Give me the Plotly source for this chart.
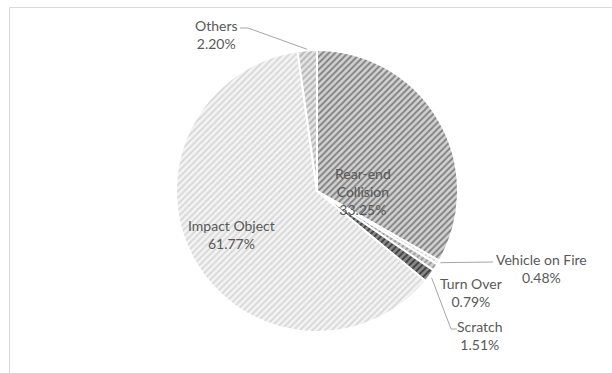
import math
import plotly.graph_objects as go

# ---- data ----
categories = ["Rear-end Collision", "Vehicle on Fire", "Turn Over", "Scratch", "Impact Object", "Others"]
values = [33.25, 0.48, 0.79, 1.51, 61.77, 2.20]
label_text = ["Rear-end<br>Collision", "Vehicle on Fire", "Turn Over", "Scratch", "Impact Object", "Others"]

# ---- styles ----
fg_colors = ["#808080", "#d0d0d0", "#9a9a9a", "#3c3c3c", "#d8d8d8", "#b4b4b4"]
bg_colors = ["#d2d2d2", "#f4f4f4", "#d4d4d4", "#8c8c8c", "#f4f4f4", "#e4e4e4"]

W, H = 612, 373
CX, CY, R = 317, 191, 141


def px(x):
    return x / W


def py(y):
    return 1 - y / H


fig = go.Figure()
fig.add_trace(go.Pie(
    labels=categories,
    values=values,
    sort=False,
    direction="clockwise",
    rotation=0,
    textinfo="none",
    hoverinfo="label+percent",
    showlegend=False,
    domain=dict(x=[px(CX - R), px(CX + R)], y=[py(CY + R), py(CY - R)]),
    marker=dict(
        colors=bg_colors,
        line=dict(color="white", width=2),
        pattern=dict(shape=["/"] * len(values), fgcolor=fg_colors, bgcolor=bg_colors,
                     size=4.5, solidity=0.4, fillmode="replace"),
    ),
))

total = sum(values)
cum = 0
mids = []
for v in values:
    mids.append((cum + v / 2) / total)
    cum += v


def edge_point(i, r=R):
    a = 2 * math.pi * mids[i]
    return CX + r * math.sin(a), CY - r * math.cos(a)


FONT = dict(family="Lato, Carlito, Calibri, sans-serif", size=14, color="#595959")

# label positions (pixel centres)
label_pos = {
    0: (363, 191),
    1: (541, 268),
    2: (471, 292),
    3: (480, 335),
    4: (231, 234),
    5: (216, 34),
}
annotations = []
for i, (x, y) in label_pos.items():
    annotations.append(dict(
        x=px(x), y=py(y), xref="paper", yref="paper",
        text=f"{label_text[i]}<br>{values[i]:.2f}%",
        showarrow=False, font=FONT, xanchor="center", yanchor="middle",
    ))

shapes = []
LINE = dict(color="#a6a6a6", width=1)
# Vehicle on Fire leader
ex, ey = edge_point(1)
shapes.append(dict(type="path", xref="paper", yref="paper",
                   path=f"M {px(ex+2)} {py(ey)} L {px(493)} {py(262)}", line=LINE))
# Scratch leader
ex, ey = edge_point(3)
shapes.append(dict(type="path", xref="paper", yref="paper",
                   path=f"M {px(ex+2)} {py(ey+2)} L {px(451)} {py(329)} L {px(457)} {py(329)}", line=LINE))
# Others leader
ex, ey = edge_point(5)
shapes.append(dict(type="path", xref="paper", yref="paper",
                   path=f"M {px(240)} {py(28)} L {px(248)} {py(28)} L {px(ex)} {py(ey-1)}", line=LINE))
# chart border (left + top visible)
shapes.append(dict(type="path", xref="paper", yref="paper",
                   path=f"M {px(9.5)} {py(380)} L {px(9.5)} {py(7.5)} L {px(620)} {py(7.5)}",
                   line=dict(color="#d9d9d9", width=1)))

fig.update_layout(
    width=W, height=H,
    margin=dict(l=0, r=0, t=0, b=0),
    paper_bgcolor="white", plot_bgcolor="white",
    annotations=annotations, shapes=shapes,
)

fig.write_html("out.html")
